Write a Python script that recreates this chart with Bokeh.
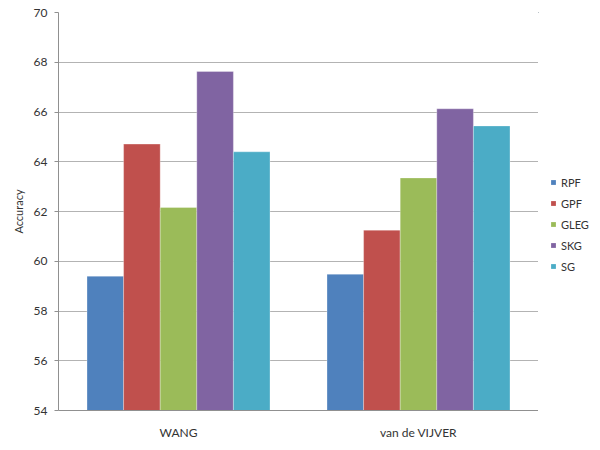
from bokeh.plotting import figure
from bokeh.layouts import row
from bokeh.models import ColumnDataSource, FactorRange, Range1d, SingleIntervalTicker, Legend, LegendItem
from bokeh.transform import dodge
from bokeh.embed import file_html
from bokeh.resources import INLINE

datasets = ["WANG", "van de VIJVER"]
methods = ["RPF", "GPF", "GLEG", "SKG", "SG"]
rpf = [59.40, 59.48]
gpf = [64.71, 61.25]
gleg = [62.16, 63.35]
skg = [67.63, 66.13]
sg = [64.40, 65.44]
colors = ["#4F81BD", "#C0504D", "#9BBB59", "#8064A2", "#4BACC6"]

src = ColumnDataSource(dict(ds=datasets, RPF=rpf, GPF=gpf, GLEG=gleg, SKG=skg, SG=sg))

FONT = "Lato"
TXT = "#333333"
p = figure(x_range=FactorRange(*datasets, range_padding=0), y_range=Range1d(54, 70),
           width=538, height=442, output_backend="svg", toolbar_location=None,
           min_border_left=58, min_border_right=0, min_border_top=12, min_border_bottom=30)
p.outline_line_color = None
p.xgrid.grid_line_color = None
p.ygrid.grid_line_color = "#b3b3b3"
p.ygrid.grid_line_width = 1

bw = 0.1525
for i, m in enumerate(methods):
    p.vbar(x=dodge("ds", (i - 2) * bw, range=p.x_range), top=m, bottom=54, width=bw,
           source=src, fill_color=colors[i], line_color="white", line_width=0.5, line_alpha=0.6)

p.yaxis.ticker = SingleIntervalTicker(interval=2)
p.yaxis.axis_label = "Accuracy"
p.yaxis.axis_label_text_font = FONT
p.yaxis.axis_label_text_font_style = "normal"
p.yaxis.axis_label_text_font_size = "11px"
p.yaxis.axis_label_text_color = TXT
p.yaxis.axis_label_standoff = 6
p.yaxis.major_label_text_font = FONT
p.yaxis.major_label_text_font_size = "12px"
p.yaxis.major_label_text_color = TXT
p.yaxis.major_label_standoff = 7
p.yaxis.major_tick_out = 4
p.yaxis.major_tick_in = 0
p.yaxis.minor_tick_line_color = None
p.yaxis.axis_line_color = "#909090"
p.yaxis.major_tick_line_color = "#909090"

p.xaxis.major_label_text_font = FONT
p.xaxis.major_label_text_font_size = "12px"
p.xaxis.major_label_text_color = TXT
p.xaxis.major_label_standoff = 14
p.xaxis.major_tick_out = 0
p.xaxis.major_tick_in = 0
p.xaxis.major_tick_line_color = None
p.xaxis.axis_line_color = "#909090"

# legend panel (zero-height swatch renderers carry the legend colours)
pl = figure(width=54, height=442, x_range=Range1d(0, 1), y_range=Range1d(0, 1),
            x_axis_type=None, y_axis_type=None, output_backend="svg", toolbar_location=None,
            min_border=0)
pl.outline_line_color = None
pl.grid.visible = False
items = []
for i, m in enumerate(methods):
    r = pl.vbar(x=-5, top=m, bottom=m, width=0.1, source=src, fill_color=colors[i], line_color=None)
    items.append(LegendItem(label=m, renderers=[r], index=0))
legend = Legend(items=items, location=(12, 137), padding=0, margin=0, spacing=7,
                glyph_width=6, glyph_height=6, label_height=14, label_standoff=5,
                label_text_font=FONT, label_text_font_size="11px", label_text_color=TXT,
                border_line_color=None, background_fill_alpha=0)
pl.add_layout(legend, "center")

layout = row(p, pl)
open("out.html", "w").write(file_html(layout, INLINE))
